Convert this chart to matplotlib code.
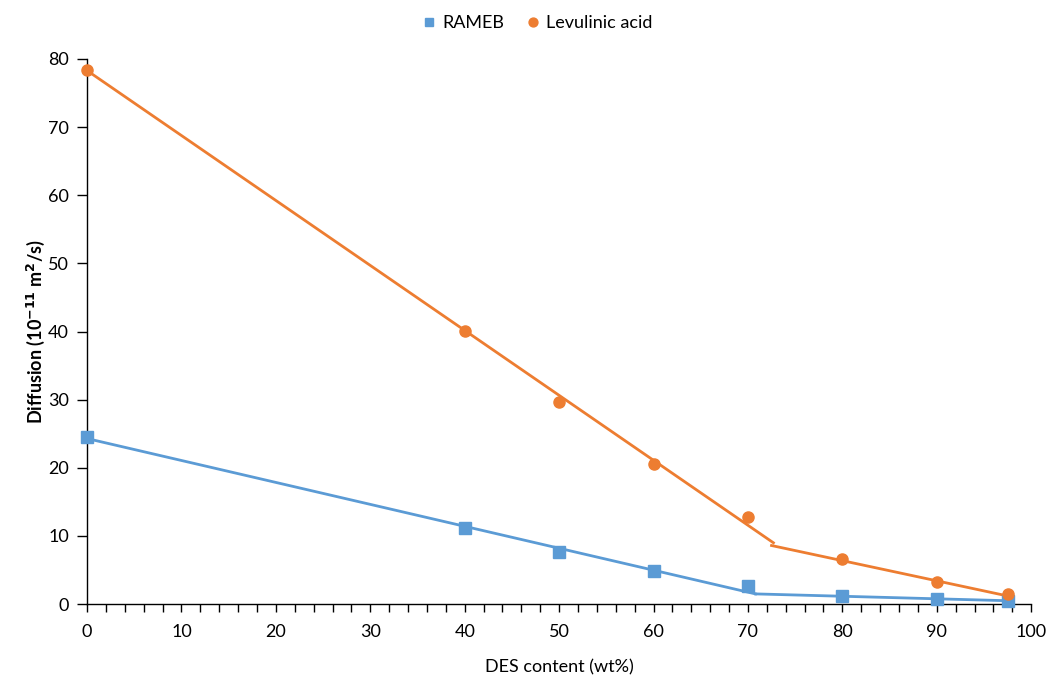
import matplotlib
matplotlib.use("Agg")
import matplotlib.pyplot as plt
from matplotlib.ticker import MultipleLocator

plt.rcParams['font.family'] = ['Lato', 'DejaVu Sans']

# Data
des_content = [0, 40, 50, 60, 70, 80, 90, 97.5]
rameb = [24.5, 11.2, 7.6, 4.8, 2.6, 1.2, 0.7, 0.4]
levulinic = [78.4, 40.1, 29.7, 20.6, 12.8, 6.6, 3.2, 1.5]

# Piecewise linear trend lines
rameb_fit1_x = [0, 70.8]
rameb_fit1_y = [24.3, 1.5]
rameb_fit2_x = [70.8, 97.5]
rameb_fit2_y = [1.5, 0.5]
lev_fit1_x = [0, 72.7]
lev_fit1_y = [78.3, 9.0]
lev_fit2_x = [72.5, 97.5]
lev_fit2_y = [8.6, 1.2]

blue = '#5B9BD5'
orange = '#ED7D31'

fig = plt.figure(figsize=(10.49, 6.75), dpi=100)
ax = fig.add_axes([0.083, 0.105, 0.9, 0.8076])

ax.plot(rameb_fit1_x, rameb_fit1_y, color=blue, lw=2)
ax.plot(rameb_fit2_x, rameb_fit2_y, color=blue, lw=2)
ax.plot(lev_fit1_x, lev_fit1_y, color=orange, lw=2)
ax.plot(lev_fit2_x, lev_fit2_y, color=orange, lw=2)

ax.plot(des_content, rameb, 's', color=blue, ms=8, label='RAMEB', clip_on=False, zorder=5)
ax.plot(des_content, levulinic, 'o', color=orange, ms=8, label='Levulinic acid', clip_on=False, zorder=5)

ax.set_xlim(0, 100)
ax.set_ylim(0, 80)
ax.xaxis.set_major_locator(MultipleLocator(10))
ax.xaxis.set_minor_locator(MultipleLocator(2))
ax.yaxis.set_major_locator(MultipleLocator(10))

for s in ['top', 'right']:
    ax.spines[s].set_visible(False)
for s in ['left', 'bottom']:
    ax.spines[s].set_color('#000000')
    ax.spines[s].set_linewidth(1.0)

ax.tick_params(axis='x', which='both', direction='out', length=6, width=1, labelsize=13, pad=8)
ax.tick_params(axis='y', which='major', direction='out', length=7, width=1, labelsize=13, pad=6)

ax.set_xlabel('DES content (wt%)', fontsize=13, labelpad=14)
ax.set_ylabel('Diffusion (10$^{\\mathbf{-11}}$ m$^{\\mathbf{2}}$/s)', fontsize=13, fontweight='bold', labelpad=1)

fig.legend(handles=ax.get_lines()[4:], labels=['RAMEB', 'Levulinic acid'],
           loc='center', bbox_to_anchor=(0.512, 0.966), ncol=2, frameon=False,
           fontsize=13, handlelength=0.8, handletextpad=0.3, columnspacing=1.2,
           markerscale=0.8)

fig.savefig('out.png', dpi=100)
